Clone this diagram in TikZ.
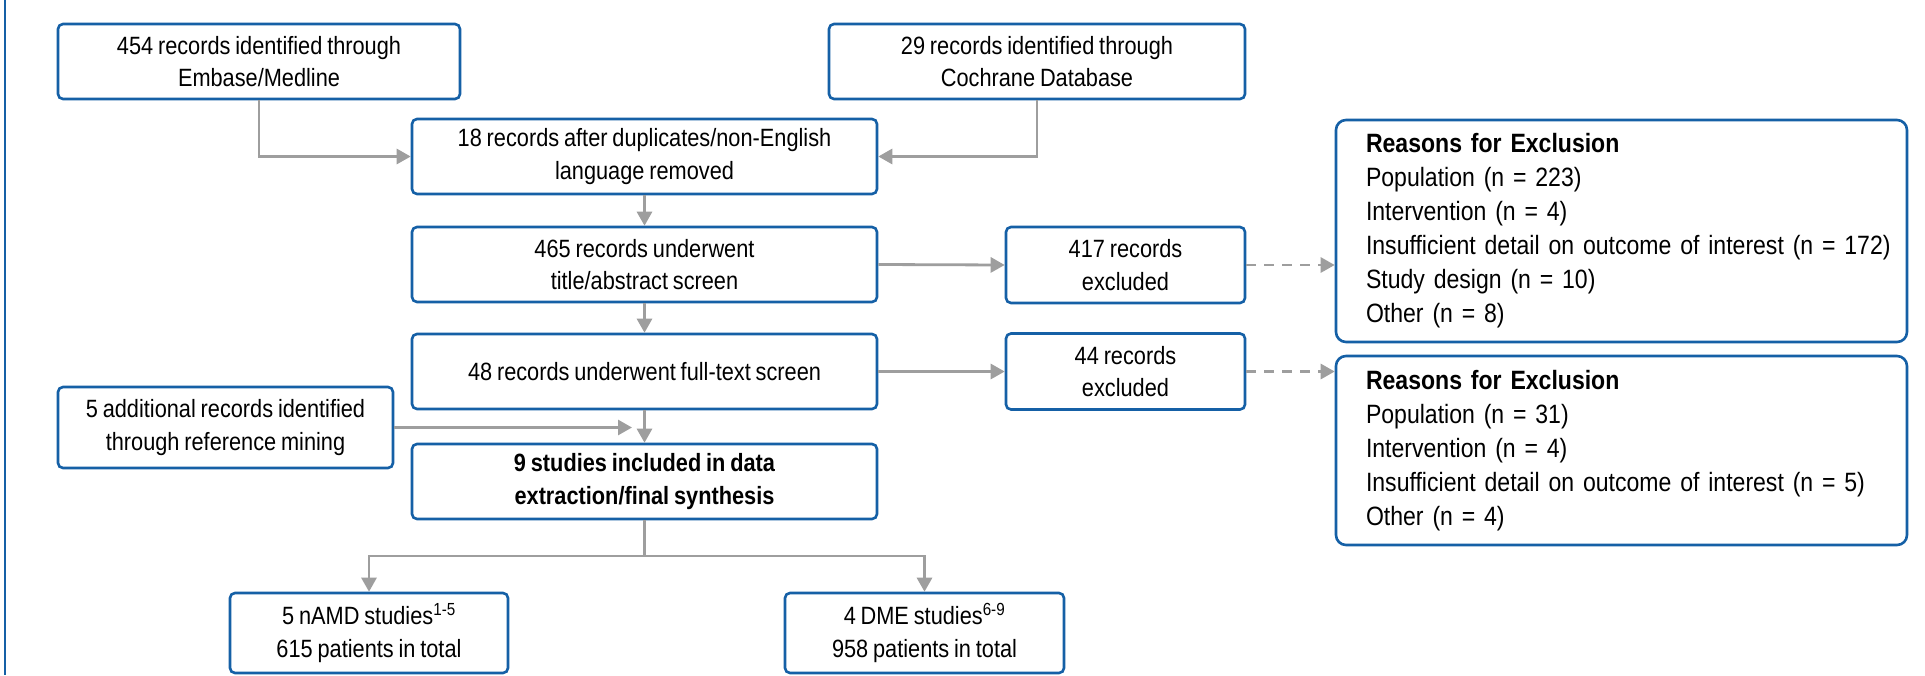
\documentclass[tikz,border=0pt]{standalone}
\usepackage{fontspec}
\setmainfont{Liberation Sans}[FakeStretch=0.87,WordSpace=0.8]
\usetikzlibrary{arrows.meta}
\definecolor{bblue}{HTML}{1560A6}
\definecolor{agray}{HTML}{9E9E9E}
\begin{document}
\begin{tikzpicture}[x=1pt,y=-1pt,
  box/.style={draw=bblue, line width=2.6pt, rounded corners=5pt, fill=white, align=center, inner sep=0pt, text=black, font=\fontsize{25}{32.5}\selectfont},
  rbox/.style={draw=bblue, line width=2.6pt, rounded corners=10pt, fill=white, align=left, inner xsep=30pt, inner ysep=0pt, text width=511pt, text=black, font=\fontsize{26.5}{34}\selectfont},
  arr/.style={draw=agray, line width=2.8pt, -{Triangle[length=14pt,width=15pt]}},
  dasharr/.style={arr, dash pattern=on 10pt off 8pt},
  ln/.style={draw=agray, line width=2.8pt},
  sideline/.style={draw=bblue, line width=2.6pt}
]
\useasboundingbox (0,0) rectangle (1925,675);
\fill[white] (0,0) rectangle (1925,675);
\draw[sideline] (5,0) -- (5,675);

\node[box, minimum width=402pt, minimum height=75pt] (b454) at (259,61.5) {454 records identified through\\Embase/Medline};
\node[box, minimum width=416pt, minimum height=75pt] (b29) at (1037,61.5) {29 records identified through\\Cochrane Database};
\node[box, minimum width=465pt, minimum height=75pt] (b18) at (644.5,156.5) {18 records after duplicates/non-English\\language removed};
\node[box, minimum width=465pt, minimum height=75pt] (b465) at (644.5,264.5) {465 records underwent\\title/abstract screen};
\node[box, minimum width=465pt, minimum height=75pt] (b48) at (644.5,371.5) {48 records underwent full-text screen};
\node[box, minimum width=465pt, minimum height=75pt, font=\fontsize{25}{32.5}\selectfont\bfseries] (b9) at (644.5,481.5) {9 studies included in data\\extraction/final synthesis};
\node[box, minimum width=239pt, minimum height=76pt] (b417) at (1125.5,265) {417 records\\excluded};
\node[box, minimum width=239pt, minimum height=76pt] (b44) at (1125.5,371.5) {44 records\\excluded};
\node[box, minimum width=335pt, minimum height=81pt] (b5) at (225.5,427.5) {5 additional records identified\\through reference mining};
\node[box, minimum width=278pt, minimum height=80pt] (namd) at (369,633) {5 nAMD studies\textsuperscript{1-5}\\615 patients in total};
\node[box, minimum width=279pt, minimum height=80pt] (dme) at (924.5,633) {4 DME studies\textsuperscript{6-9}\\958 patients in total};

\node[rbox, minimum height=222pt] (r1) at (1621.5,231) {\textbf{Reasons for Exclusion}\\Population (n = 223)\\Intervention (n = 4)\\\mbox{Insufficient detail on outcome of interest (n = 172)}\\Study design (n = 10)\\Other (n = 8)};
\node[rbox, minimum height=189pt] (r2) at (1621.5,450.5) {\textbf{Reasons for Exclusion}\\Population (n = 31)\\Intervention (n = 4)\\\mbox{Insufficient detail on outcome of interest (n = 5)}\\Other (n = 4)};

\draw[arr] (b454.south) |- (b18.west);
\draw[arr] (b29.south) |- (b18.east);
\draw[arr] (b18.south) -- (b465.north);
\draw[arr] (b465.south) -- (b48.north);
\draw[arr] (b48.south) -- (b9.north);
\draw[arr] (b465.east) -- (b417.west);
\draw[arr] (b48.east) -- (b44.west);
\draw[dasharr] (b417.east) -- (b417.east -| r1.west);
\draw[dasharr] (b44.east) -- (b44.east -| r2.west);
\coordinate (join) at (632,427.5);
\draw[arr] (b5.east) -- (join);
\coordinate (br) at (644.5,556);
\draw[ln] (b9.south) -- (br);
\draw[arr] (br) -| (namd.north);
\draw[arr] (br) -| (dme.north);
\end{tikzpicture}
\end{document}
